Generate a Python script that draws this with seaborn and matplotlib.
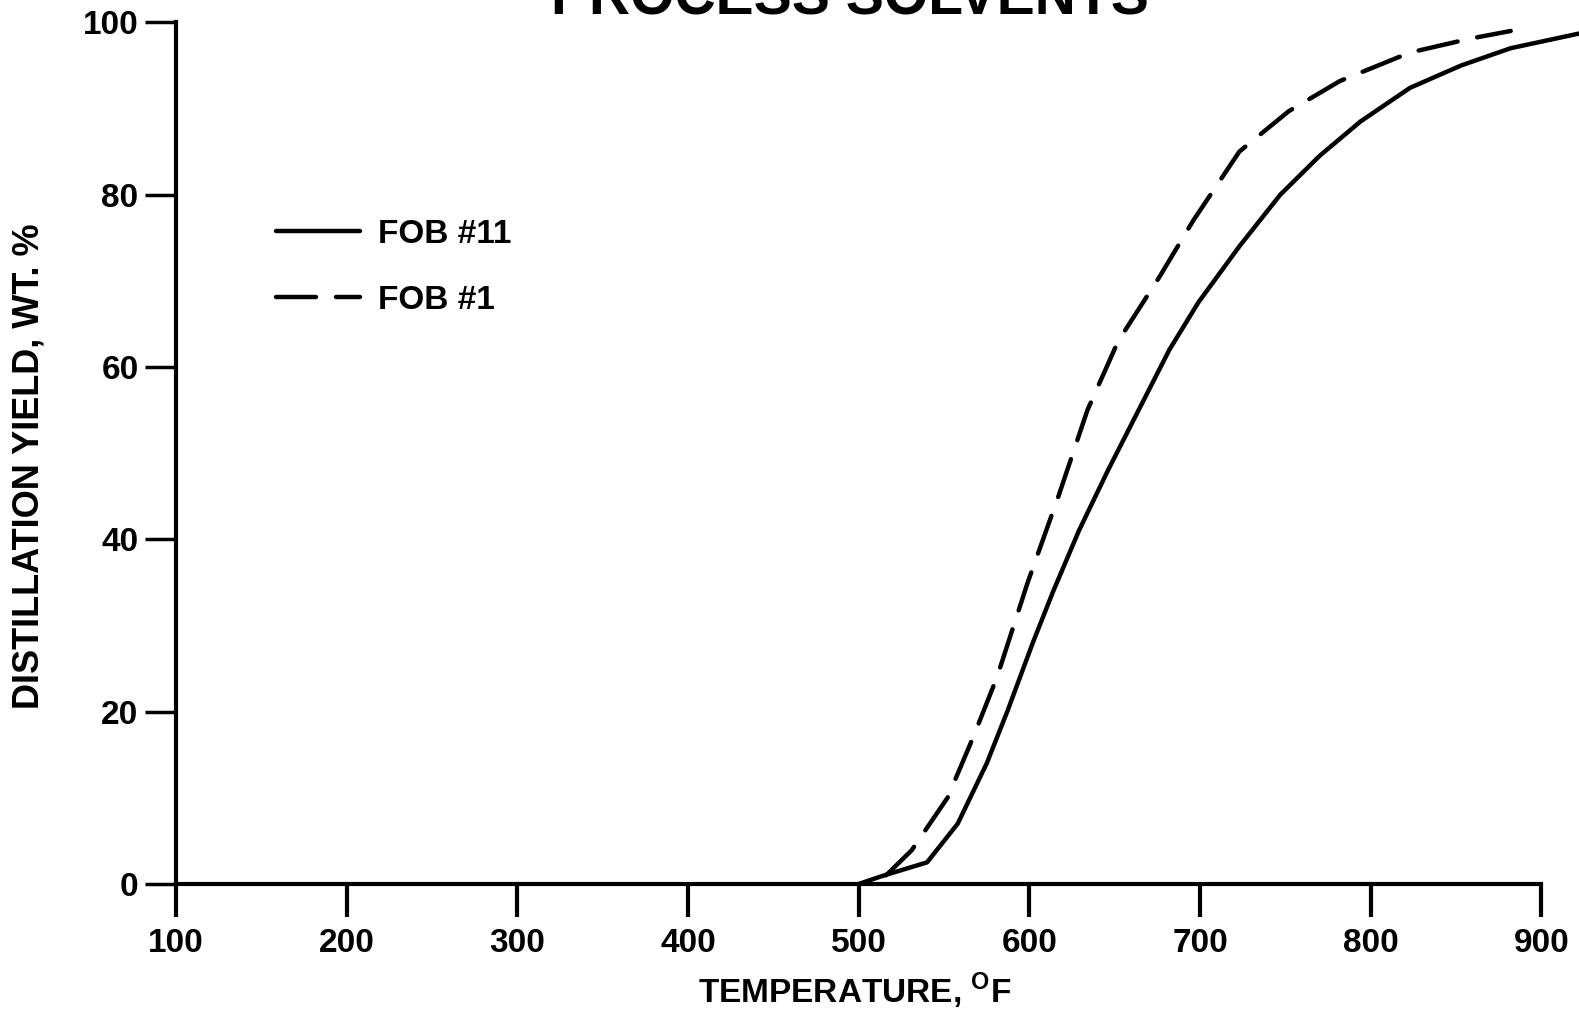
import matplotlib
matplotlib.use("Agg")
import matplotlib.pyplot as plt
import seaborn as sns
import pandas as pd

# Data
fob11_temp = [500, 515, 540, 558, 575, 587, 602, 614, 629, 646, 664, 682, 699, 723, 747, 770, 794, 823, 853, 882, 922]
fob11_yield = [0, 1.0, 2.5, 7, 14, 20, 28, 34, 41, 48, 55, 62, 67.5, 74, 80, 84.5, 88.5, 92.4, 95, 97, 98.7]
fob1_temp = [516, 531, 552, 567, 581, 599, 617, 634, 652, 676, 696, 723, 752, 782, 823, 858, 882]
fob1_yield = [1.0, 3.9, 10, 17, 24, 35, 45, 55, 63, 70.4, 77, 85, 89.7, 93.2, 96.5, 98.1, 99]
x_ticks = [100, 200, 300, 400, 500, 600, 700, 800, 900]
y_ticks = [0, 20, 40, 60, 80, 100]

sns.set_theme(style="white")
plt.rcParams['font.family'] = ['Liberation Sans', 'DejaVu Sans']
plt.rcParams['font.weight'] = 'bold'
plt.rcParams['text.color'] = 'black'
plt.rcParams['axes.labelcolor'] = 'black'
plt.rcParams['xtick.color'] = 'black'
plt.rcParams['ytick.color'] = 'black'
plt.rcParams['mathtext.fontset'] = 'custom'
plt.rcParams['mathtext.bf'] = 'Liberation Sans:bold'
plt.rcParams['mathtext.rm'] = 'Liberation Sans:bold'

fig = plt.figure(figsize=(15.79, 10.16), dpi=100)
ax = fig.add_axes([0.1115, 0.130, 0.8885, 0.848])

df11 = pd.DataFrame({"T": fob11_temp, "Y": fob11_yield})
df1 = pd.DataFrame({"T": fob1_temp, "Y": fob1_yield})
sns.lineplot(data=df11, x="T", y="Y", ax=ax, color="black", lw=3.2, label="FOB #11",
             solid_joinstyle='round', solid_capstyle='round')
sns.lineplot(data=df1, x="T", y="Y", ax=ax, color="black", lw=3.2, label="FOB #1",
             linestyle=(0, (9, 4.5)), dash_capstyle='round')

ax.set_xlim(100, 922)
ax.set_ylim(0, 100)
ax.set_xticks(x_ticks)
ax.set_yticks(y_ticks)
ax.set_xticklabels([str(v) for v in x_ticks], fontsize=24, fontweight='bold')
ax.set_yticklabels([str(v) for v in y_ticks], fontsize=24, fontweight='bold')
ax.tick_params(axis='x', direction='out', length=24, width=3, color='black', pad=8, bottom=True)
ax.tick_params(axis='y', direction='out', length=22, width=2.5, color='black', pad=5, left=True)

for s in ['top', 'right']:
    ax.spines[s].set_visible(False)
for s in ['left', 'bottom']:
    ax.spines[s].set_color('black')
    ax.spines[s].set_linewidth(3)
ax.spines['bottom'].set_bounds(100, 900)
ax.set_facecolor('white')
ax.grid(False)

ax.set_xlabel(r"TEMPERATURE, $^{\mathbf{O}}$F", fontsize=24, fontweight='bold')
ax.xaxis.set_label_coords(0.4835, -0.101)
ax.set_ylabel("DISTILLATION YIELD, WT. %", fontsize=26, fontweight='bold')
ax.yaxis.set_label_coords(-0.092, 0.485)

leg = ax.legend(loc='upper left', bbox_to_anchor=(0.050, 0.807), frameon=False,
                handlelength=2.5, handletextpad=0.55, labelspacing=1.05,
                prop={'size': 24, 'weight': 'bold'})

fig.text(0.538, 0.986, "PROCESS SOLVENTS", fontsize=41, fontweight='bold',
         ha='center', va='baseline')

fig.savefig("out.png", dpi=100, facecolor='white')
